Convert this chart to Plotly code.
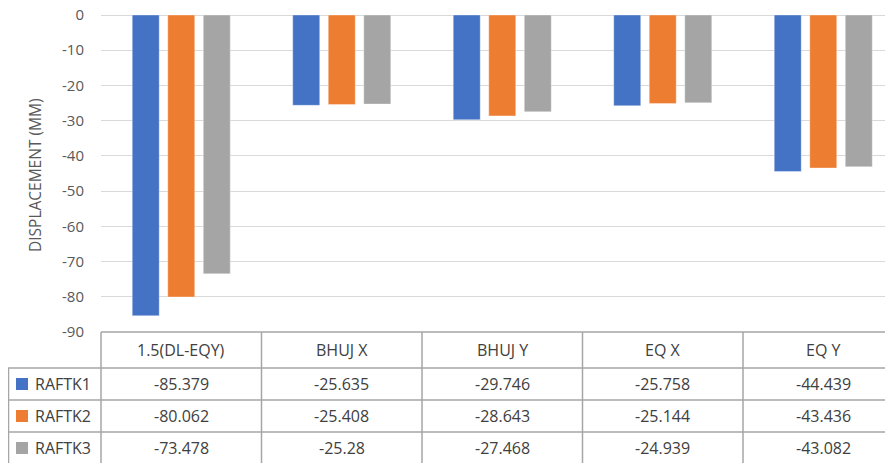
import plotly.graph_objects as go

categories = ["1.5(DL-EQY)", "BHUJ X", "BHUJ Y", "EQ X", "EQ Y"]
series_names = ["RAFTK1", "RAFTK2", "RAFTK3"]
raftk1 = [-85.379, -25.635, -29.746, -25.758, -44.439]
raftk2 = [-80.062, -25.408, -28.643, -25.144, -43.436]
raftk3 = [-73.478, -25.28, -27.468, -24.939, -43.082]
value_labels = [
    ["-85.379", "-25.635", "-29.746", "-25.758", "-44.439"],
    ["-80.062", "-25.408", "-28.643", "-25.144", "-43.436"],
    ["-73.478", "-25.28", "-27.468", "-24.939", "-43.082"],
]
colors = ["#4472C4", "#ED7D31", "#A5A5A5"]
y_ticks = [0, -10, -20, -30, -40, -50, -60, -70, -80, -90]

# the page body has an 8px margin, so the figure is drawn 8px in from the corner
OFF = 8
W, H = 893 - OFF, 463 - OFF
L, T = 101 - OFF, 15 - OFF
ph = 317
pw = W - L
B = H - T - ph

FONT = "Open Sans"
TXT = "#404040"
GRID = "#D9D9D9"
TBL = "#A6A6A6"

xmin = -0.5
xmax = len(categories) - 0.5 - 10.5 / 160.5  # right edge cropped like the reference

fig = go.Figure()
for name, vals, c in zip(series_names, [raftk1, raftk2, raftk3], colors):
    fig.add_trace(go.Bar(
        x=list(range(len(categories))), y=vals, name=name,
        marker=dict(color=c, line=dict(width=0.6, color="rgba(255,255,255,0.6)")),
        showlegend=False,
    ))

# helpers: reference-screen pixels -> paper coords
def py(p):
    return (T + ph - (p - OFF)) / ph

def pxp(p):
    return ((p - OFF) - L) / pw

def xpaper_from_data(v):
    return (v - xmin) / (xmax - xmin)

shapes = []
line = dict(color=TBL, width=1.5)
shapes.append(dict(type="line", xref="paper", yref="paper", x0=0, x1=1.02, y0=0, y1=0, line=line))
for rp in [368, 400, 432]:
    shapes.append(dict(type="line", xref="paper", yref="paper", x0=pxp(8), x1=1.02,
                       y0=py(rp), y1=py(rp), line=line))
for k in range(len(categories)):
    xp = xpaper_from_data(k - 0.5)
    shapes.append(dict(type="line", xref="paper", yref="paper", x0=xp, x1=xp, y0=0, y1=py(475), line=line))
shapes.append(dict(type="line", xref="paper", yref="paper", x0=pxp(8.5), x1=pxp(8.5),
                   y0=py(368), y1=py(475), line=line))

annotations = []
for k, cat in enumerate(categories):
    annotations.append(dict(x=k, xref="x", y=py(350), yref="paper", text=cat, showarrow=False,
                            font=dict(family=FONT, size=16, color=TXT), xanchor="center", yanchor="middle"))
row_centers = [384, 416, 448]
for r, (name, c) in enumerate(zip(series_names, colors)):
    yc = row_centers[r]
    shapes.append(dict(type="rect", xref="paper", yref="paper",
                       x0=pxp(16), x1=pxp(28), y0=py(yc - 6), y1=py(yc + 6),
                       fillcolor=c, line=dict(width=0)))
    annotations.append(dict(x=pxp(33), xref="paper", y=py(yc), yref="paper", text=name,
                            showarrow=False, xanchor="left", yanchor="middle",
                            font=dict(family=FONT, size=16, color=TXT)))
    for k in range(len(categories)):
        annotations.append(dict(x=k, xref="x", y=py(yc), yref="paper", text=value_labels[r][k],
                                showarrow=False, xanchor="center", yanchor="middle",
                                font=dict(family=FONT, size=16, color=TXT)))

annotations.append(dict(x=pxp(35), xref="paper", y=py(176), yref="paper",
                        text="DISPLACEMENT (MM)", textangle=-90, showarrow=False,
                        xanchor="center", yanchor="middle",
                        font=dict(family=FONT, size=15.5, color="#595959")))

fig.update_layout(
    width=W, height=H,
    margin=dict(l=L, r=0, t=T, b=B, pad=0, autoexpand=False),
    paper_bgcolor="white", plot_bgcolor="white",
    barmode="group", bargap=0.336, bargroupgap=0.24,
    xaxis=dict(range=[xmin, xmax], showticklabels=False, showgrid=False, zeroline=False,
               showline=False, ticks="", automargin=False),
    yaxis=dict(range=[-90, 0], tickvals=y_ticks, ticktext=[str(v) for v in y_ticks],
               showgrid=True, gridcolor=GRID, gridwidth=1.3, zeroline=True, zerolinecolor=GRID,
               zerolinewidth=1.3, showline=False, ticks="", ticklabelstandoff=16, automargin=False,
               ticklabeloverflow="allow",
               tickfont=dict(family=FONT, size=15, color="#595959")),
    shapes=shapes, annotations=annotations,
    font=dict(family=FONT),
)

fig.write_html("out.html")
